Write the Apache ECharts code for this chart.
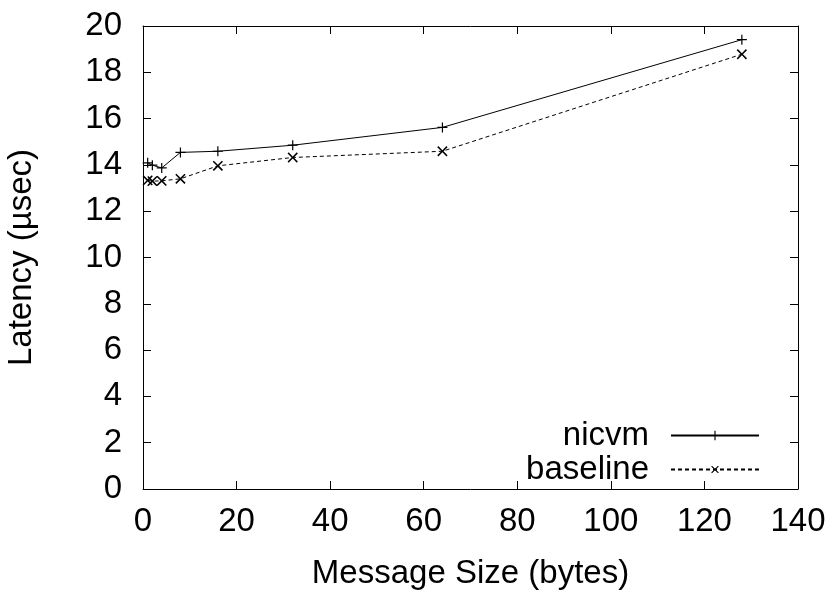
<!DOCTYPE html>
<html>
<head>
<meta charset="utf-8">
<script src="https://cdn.jsdelivr.net/npm/echarts@6/dist/echarts.min.js"></script>
<style>
  html, body { margin: 0; padding: 0; background: #fff; }
  #chart { width: 835px; height: 594px; }
</style>
</head>
<body>
<div id="chart"></div>
<script>
// message sizes (bytes)
const sizes = [1, 2, 4, 8, 16, 32, 64, 128];
// latency in usec
const nicvm = [14.09, 13.99, 13.87, 14.54, 14.59, 14.85, 15.62, 19.41];
const baseline = [13.33, 13.30, 13.31, 13.40, 13.96, 14.32, 14.59, 18.78];

const FONT = 'Liberation Sans';
const FS = 33;

// plus sign as a thin filled polygon; rotated 45 deg it becomes an x
const plus = 'path://M4.4,0 L5.6,0 L5.6,4.4 L10,4.4 L10,5.6 L5.6,5.6 L5.6,10 L4.4,10 L4.4,5.6 L0,5.6 L0,4.4 L4.4,4.4 Z';

const pairs = (xs, ys) => xs.map((x, i) => [x, ys[i]]);

const chart = echarts.init(document.getElementById('chart'), null, { renderer: 'canvas' });

const axisCommon = {
  axisLine: { show: true, onZero: false, lineStyle: { color: '#000', width: 1 } },
  axisTick: { show: true, inside: true, length: 8, lineStyle: { color: '#000', width: 1 } },
  splitLine: { show: false },
};

chart.setOption({
  backgroundColor: '#fff',
  animation: false,
  textStyle: { fontFamily: FONT },
  grid: { left: 143, right: 37, top: 26, bottom: 105, containLabel: false, outerBoundsMode: 'none' },
  legend: [
    {
      data: ['nicvm'],
      right: 70, top: 414,
      align: 'right',
      itemWidth: 88, itemHeight: 12,
      textStyle: { fontFamily: FONT, fontSize: FS, color: '#000', padding: [0, 17, 0, 0] },
    },
    {
      data: ['baseline'],
      right: 70, top: 448,
      align: 'right',
      itemWidth: 88, itemHeight: 12,
      textStyle: { fontFamily: FONT, fontSize: FS, color: '#000', padding: [0, 17, 0, 0] },
    },
  ],
  xAxis: [
    Object.assign({
      type: 'value', min: 0, max: 140, interval: 20, position: 'bottom',
      name: 'Message Size (bytes)', nameLocation: 'middle', nameGap: 68,
      nameTextStyle: { fontFamily: FONT, fontSize: FS, color: '#000' },
      axisLabel: { fontFamily: FONT, fontSize: FS, color: '#000', margin: 16 },
    }, axisCommon),
    Object.assign({
      type: 'value', min: 0, max: 140, interval: 20, position: 'top',
      axisLabel: { show: false },
    }, axisCommon),
  ],
  yAxis: [
    Object.assign({
      type: 'value', min: 0, max: 20, interval: 2, position: 'left',
      name: 'Latency (\u00b5sec)', nameLocation: 'middle', nameGap: 105,
      nameTextStyle: { fontFamily: FONT, fontSize: FS, color: '#000' },
      axisLabel: { fontFamily: FONT, fontSize: FS, color: '#000', margin: 21 },
    }, axisCommon),
    Object.assign({
      type: 'value', min: 0, max: 20, interval: 2, position: 'right',
      axisLabel: { show: false },
    }, axisCommon),
  ],
  series: [
    {
      name: 'nicvm', type: 'line', data: pairs(sizes, nicvm),
      symbol: plus, symbolSize: 10, showSymbol: true,
      lineStyle: { color: '#000', width: 1, type: 'solid' },
      itemStyle: { color: '#000' },
    },
    {
      name: 'baseline', type: 'line', data: pairs(sizes, baseline),
      symbol: plus, symbolSize: 13, symbolRotate: 45, showSymbol: true,
      lineStyle: { color: '#000', width: 1, type: [4, 3] },
      itemStyle: { color: '#000' },
    },
  ],
});
</script>
</body>
</html>
